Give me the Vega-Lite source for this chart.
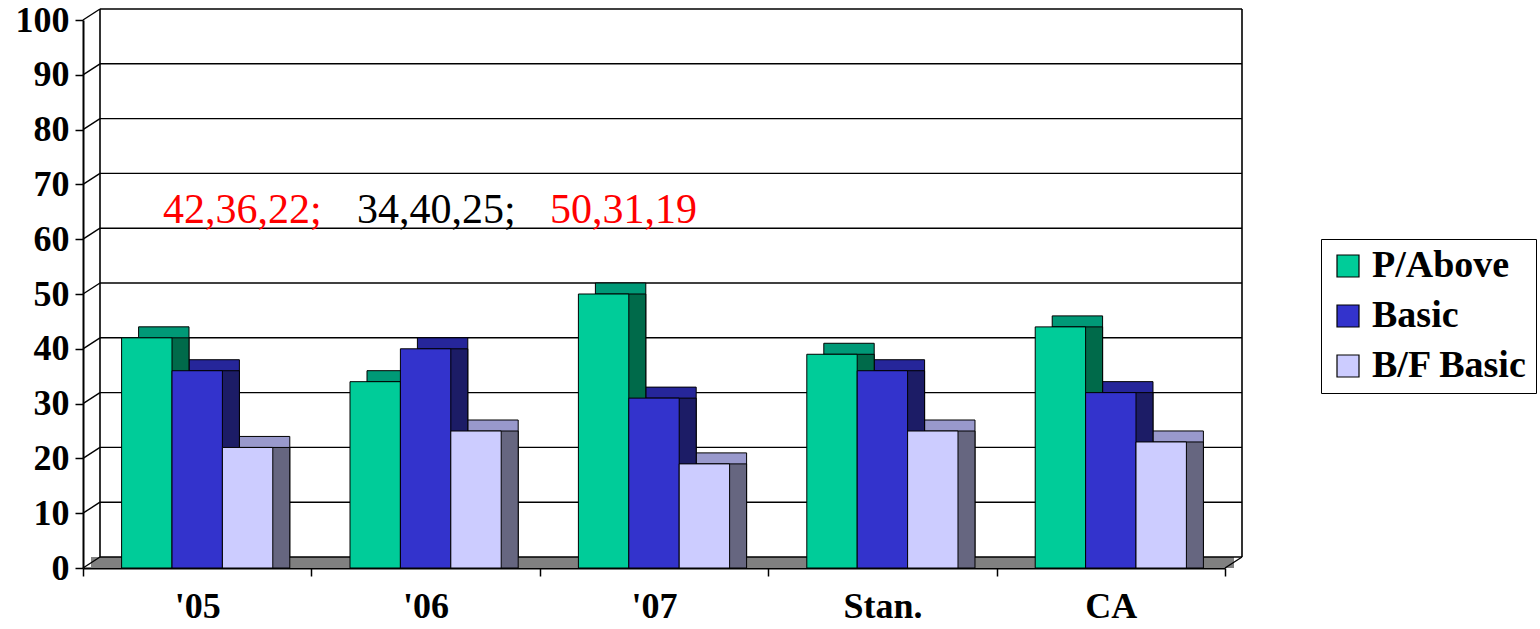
{
  "$schema": "https://vega.github.io/schema/vega-lite/v6.json",
  "width": 1142,
  "height": 548,
  "autosize": "none",
  "padding": {"left": 83, "top": 20, "right": 315, "bottom": 61},
  "background": "white",
  "config": {
    "view": {"stroke": null},
    "font": "Liberation Serif",
    "axisY": {
      "grid": false, "tickSize": 8, "tickColor": "black", "tickWidth": 1.5,
      "domainColor": "black", "domainWidth": 2,
      "labelFont": "Liberation Serif", "labelFontWeight": "bold", "labelFontSize": 36, "labelColor": "black", "labelPadding": 6
    },
    "axisX": {
      "grid": false, "labelAngle": 0, "tickBand": "extent", "tickSize": 8, "tickColor": "black", "tickWidth": 1.5,
      "domainColor": "black", "domainWidth": 2,
      "labelFont": "Liberation Serif", "labelFontWeight": "bold", "labelFontSize": 36, "labelColor": "black", "labelPadding": 13
    }
  },
  "datasets": {
    "bars": [
      {"cat": "'05", "series": "P/Above", "value": 42},
      {"cat": "'05", "series": "Basic", "value": 36},
      {"cat": "'05", "series": "B/F Basic", "value": 22},
      {"cat": "'06", "series": "P/Above", "value": 34},
      {"cat": "'06", "series": "Basic", "value": 40},
      {"cat": "'06", "series": "B/F Basic", "value": 25},
      {"cat": "'07", "series": "P/Above", "value": 50},
      {"cat": "'07", "series": "Basic", "value": 31},
      {"cat": "'07", "series": "B/F Basic", "value": 19},
      {"cat": "Stan.", "series": "P/Above", "value": 39},
      {"cat": "Stan.", "series": "Basic", "value": 36},
      {"cat": "Stan.", "series": "B/F Basic", "value": 25},
      {"cat": "CA", "series": "P/Above", "value": 44},
      {"cat": "CA", "series": "Basic", "value": 32},
      {"cat": "CA", "series": "B/F Basic", "value": 23}
    ],
    "ticks": [
      {"v": 0}, {"v": 10}, {"v": 20}, {"v": 30}, {"v": 40}, {"v": 50},
      {"v": 60}, {"v": 70}, {"v": 80}, {"v": 90}, {"v": 100}
    ]
  },
  "layer": [
    {
      "layer": [
        {
          "data": {"values": [{}]},
          "mark": {"type": "rect", "color": "#808080", "xOffset": 8, "x2Offset": 9, "y2Offset": -11},
          "encoding": {
            "x": {"datum": 0, "type": "quantitative", "scale": {"domain": [0, 1], "nice": false}, "axis": null},
            "x2": {"datum": 1},
            "y": {"datum": 0, "type": "quantitative", "title": null, "scale": {"domain": [0, 100], "nice": false}},
            "y2": {"datum": 0}
          }
        },
        {
          "data": {"name": "ticks"},
          "mark": {"type": "rule", "color": "black", "strokeWidth": 1.4, "xOffset": 17, "x2Offset": 17, "yOffset": -11},
          "encoding": {
            "x": {"datum": 0, "type": "quantitative", "axis": null},
            "x2": {"datum": 1},
            "y": {"field": "v", "type": "quantitative", "title": null}
          }
        },
        {
          "data": {"name": "ticks"},
          "mark": {"type": "rule", "color": "black", "strokeWidth": 1.4, "x2Offset": 17, "y2Offset": -11},
          "encoding": {
            "x": {"datum": 0, "type": "quantitative", "axis": null},
            "x2": {"datum": 0},
            "y": {"field": "v", "type": "quantitative", "title": null},
            "y2": {"field": "v"}
          }
        },
        {
          "data": {"values": [{}]},
          "mark": {"type": "rule", "color": "black", "strokeWidth": 1.4, "x2Offset": 17, "y2Offset": -11},
          "encoding": {
            "x": {"datum": 1, "type": "quantitative", "axis": null},
            "x2": {"datum": 1},
            "y": {"datum": 0, "type": "quantitative", "title": null},
            "y2": {"datum": 0}
          }
        },
        {
          "data": {"values": [{}]},
          "mark": {"type": "rule", "color": "black", "strokeWidth": 1.6, "xOffset": 17, "yOffset": -11, "y2Offset": -11},
          "encoding": {
            "x": {"datum": 0, "type": "quantitative", "axis": null},
            "y": {"datum": 0, "type": "quantitative", "title": null},
            "y2": {"datum": 100}
          }
        },
        {
          "data": {"values": [{}]},
          "mark": {"type": "rule", "color": "black", "strokeWidth": 1.6, "xOffset": 17, "yOffset": -11, "y2Offset": -11},
          "encoding": {
            "x": {"datum": 1, "type": "quantitative", "axis": null},
            "y": {"datum": 0, "type": "quantitative", "title": null},
            "y2": {"datum": 100}
          }
        },
        {
          "data": {"values": [{"label": "42,36,22;"}]},
          "mark": {"type": "text", "align": "left", "baseline": "alphabetic", "fontSize": 42, "font": "Liberation Serif", "color": "#FF0000"},
          "encoding": {
            "x": {"datum": 0.07, "type": "quantitative", "axis": null},
            "y": {"datum": 63, "type": "quantitative", "title": null},
            "text": {"field": "label"}
          }
        },
        {
          "data": {"values": [{"label": "34,40,25;"}]},
          "mark": {"type": "text", "align": "left", "baseline": "alphabetic", "fontSize": 42, "font": "Liberation Serif", "color": "#000000"},
          "encoding": {
            "x": {"datum": 0.24, "type": "quantitative", "axis": null},
            "y": {"datum": 63, "type": "quantitative", "title": null},
            "text": {"field": "label"}
          }
        },
        {
          "data": {"values": [{"label": "50,31,19"}]},
          "mark": {"type": "text", "align": "left", "baseline": "alphabetic", "fontSize": 42, "font": "Liberation Serif", "color": "#FF0000"},
          "encoding": {
            "x": {"datum": 0.409, "type": "quantitative", "axis": null},
            "y": {"datum": 63, "type": "quantitative", "title": null},
            "text": {"field": "label"}
          }
        }
      ]
    },
    {
      "data": {"name": "bars"},
      "layer": [
        {
          "mark": {"type": "bar", "yOffset": -11, "y2Offset": -11, "stroke": "black", "strokeWidth": 1},
          "encoding": {
            "x": {"field": "cat", "type": "nominal", "sort": null, "title": null, "scale": {"paddingInner": 0, "paddingOuter": 0}},
            "xOffset": {"field": "series", "type": "nominal", "scale": {"domain": ["P/Above", "Basic", "B/F Basic"], "range": [17, 245.4], "paddingInner": 0, "paddingOuter": 0.766}},
            "y": {"field": "value", "type": "quantitative", "title": null, "scale": {"domain": [0, 100], "nice": false}},
            "color": {"field": "series", "type": "nominal", "scale": {"domain": ["P/Above", "Basic", "B/F Basic"], "range": ["#009977", "#26269A", "#9999CC"]}, "legend": null}
          }
        },
        {
          "mark": {"type": "bar", "y2Offset": -11, "stroke": "black", "strokeWidth": 1},
          "encoding": {
            "x": {"field": "cat", "type": "nominal", "sort": null, "title": null, "scale": {"paddingInner": 0, "paddingOuter": 0}},
            "xOffset": {"field": "series", "type": "nominal", "scale": {"domain": ["P/Above", "Basic", "B/F Basic"], "range": [17, 245.4], "paddingInner": 0, "paddingOuter": 0.766}},
            "y": {"field": "value", "type": "quantitative", "title": null},
            "color": {"field": "series", "type": "nominal", "scale": {"domain": ["P/Above", "Basic", "B/F Basic"], "range": ["#006A4A", "#1C1C66", "#666680"]}, "legend": null}
          }
        },
        {
          "mark": {"type": "bar", "stroke": "black", "strokeWidth": 1},
          "encoding": {
            "x": {"field": "cat", "type": "nominal", "sort": null, "title": null, "scale": {"paddingInner": 0, "paddingOuter": 0}},
            "xOffset": {"field": "series", "type": "nominal", "scale": {"domain": ["P/Above", "Basic", "B/F Basic"], "paddingInner": 0, "paddingOuter": 0.766}},
            "y": {"field": "value", "type": "quantitative", "title": null, "scale": {"domain": [0, 100], "nice": false}},
            "color": {
              "field": "series", "type": "nominal",
              "scale": {"domain": ["P/Above", "Basic", "B/F Basic"], "range": ["#00CC99", "#3333CC", "#CCCCFF"]},
              "legend": {
                "title": null, "orient": "none", "legendX": 1238, "legendY": 219,
                "strokeColor": "black", "fillColor": "white", "padding": 8,
                "symbolType": "square", "symbolSize": 484, "symbolStrokeColor": "black", "symbolStrokeWidth": 1.2, "symbolOpacity": 1,
                "labelFont": "Liberation Serif", "labelFontWeight": "bold", "labelFontSize": 38, "labelColor": "black",
                "labelOffset": 5, "rowPadding": 12, "labelLimit": 400
              }
            }
          }
        }
      ],
      "resolve": {"scale": {"xOffset": "independent", "color": "independent"}}
    }
  ],
  "resolve": {"scale": {"x": "independent"}}
}
